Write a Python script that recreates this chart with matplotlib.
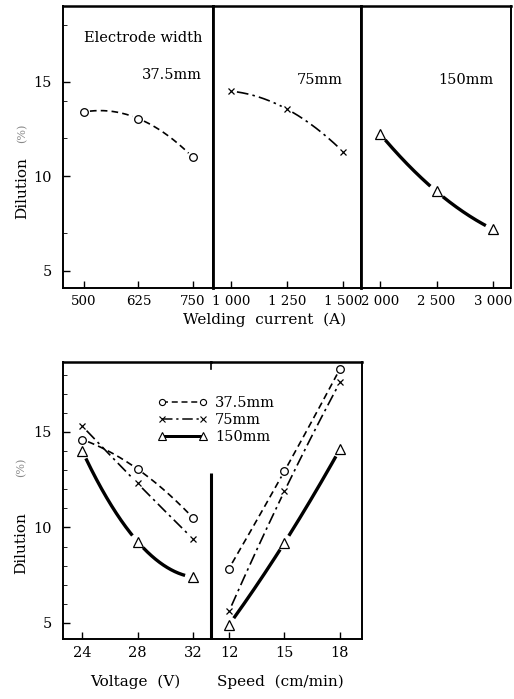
import numpy as np
import matplotlib
matplotlib.use("Agg")
import matplotlib.pyplot as plt
from matplotlib.lines import Line2D
from matplotlib.ticker import FixedLocator

plt.rcParams['font.family'] = ['DejaVu Serif']

# ---------------- data ----------------
widths = ["37.5mm", "75mm", "150mm"]

cur_375 = [500, 625, 750]
dil_cur_375 = [13.4, 13.05, 11.0]
cur_75 = [1000, 1250, 1500]
dil_cur_75 = [14.5, 13.55, 11.3]
cur_150 = [2000, 2500, 3000]
dil_cur_150 = [12.25, 9.2, 7.2]
cur_tick_labels = [["500", "625", "750"],
                   ["1 000", "1 250", "1 500"],
                   ["2 000", "2 500", "3 000"]]

voltage = [24, 28, 32]
dil_volt_375 = [14.6, 13.05, 10.5]
dil_volt_75 = [15.3, 12.3, 9.4]
dil_volt_150 = [14.0, 9.25, 7.4]

speed = [12, 15, 18]
dil_speed_375 = [7.85, 12.95, 18.3]
dil_speed_75 = [5.6, 11.9, 17.6]
dil_speed_150 = [4.9, 9.2, 14.1]

y_ticks = [5, 10, 15]

# ---------------- styling ----------------
W, H = 514, 699
fig = plt.figure(figsize=(W / 100, H / 100), dpi=100)
FS = 10.5

STY = {
    "37.5mm": dict(marker="o", ls=(0, (4, 2.5)), lw=1.2, ms=5.5, gap=6),
    "75mm": dict(marker="x", ls=(0, (7, 2.5, 1.5, 2.5)), lw=1.2, ms=5, gap=6),
    "150mm": dict(marker="^", ls="-", lw=2.4, ms=7, gap=8),
}


def pos(l, t, r, b):
    return [l / W, 1 - b / H, (r - l) / W, (b - t) / H]


def ftext(x, y, s, **kw):
    kw.setdefault("fontsize", FS)
    return fig.text(x / W, 1 - y / H, s, **kw)


def style_axes(ax, left_label=True, xfs=FS):
    ax.patch.set_visible(False)
    ax.tick_params(direction="in", length=5, width=1, labelsize=FS, pad=5)
    ax.tick_params(axis="x", labelsize=xfs)
    ax.tick_params(axis="y", pad=8)
    for s in ax.spines.values():
        s.set_linewidth(1.4)
    ax.spines["top"].set_linewidth(1.8)
    if not left_label:
        ax.tick_params(axis="y", left=False, labelleft=False, which="both")


def draw_series(ax, xs, ys, key):
    st = STY[key]
    c = np.polyfit(xs, ys, 2)
    xx = np.linspace(xs[0], xs[-1], 600)
    yy = np.polyval(c, xx)
    pts = ax.transData.transform(np.column_stack([xx, yy]))
    mk = ax.transData.transform(np.column_stack([xs, ys]))
    d = np.min(np.hypot(pts[:, 0, None] - mk[None, :, 0],
                        pts[:, 1, None] - mk[None, :, 1]), axis=1)
    yy = np.where(d < st["gap"], np.nan, yy)
    ax.plot(xx, yy, ls=st["ls"], lw=st["lw"], color="k", solid_capstyle="butt")
    ax.plot(xs, ys, ls="none", marker=st["marker"], ms=st["ms"],
            mfc="white" if st["marker"] != "x" else "k", mec="k", mew=0.9)


# ---------------- top chart: welding current ----------------
top_bounds = [(63, 213), (213, 361), (361, 511)]
top_xlim = [(452, 796), (920, 1580), (1832, 3159)]
top_data = [(cur_375, dil_cur_375, "37.5mm"),
            (cur_75, dil_cur_75, "75mm"),
            (cur_150, dil_cur_150, "150mm")]
top_axes = []
for i, ((l, r), xl, (xs, ys, key)) in enumerate(zip(top_bounds, top_xlim, top_data)):
    ax = fig.add_axes(pos(l, 6, r, 288))
    ax.set_xlim(*xl)
    ax.set_ylim(4.1, 19.0)
    ax.set_xticks(xs)
    ax.set_xticklabels(cur_tick_labels[i])
    ax.set_yticks(y_ticks)
    ax.yaxis.set_minor_locator(FixedLocator([7, 12, 14, 18]))
    ax.tick_params(axis="y", which="minor", direction="in", length=3)
    style_axes(ax, left_label=(i == 0), xfs=9.6)
    draw_series(ax, xs, ys, key)
    top_axes.append(ax)
for ax in top_axes[1:]:
    ax.spines["left"].set_linewidth(2.0)

ftext(143, 38, "Electrode width", ha="center", va="center")
ftext(172, 75, widths[0], ha="center", va="center")
ftext(320, 80, widths[1], ha="center", va="center")
ftext(466, 80, widths[2], ha="center", va="center")
ftext(265, 320, "Welding  current  (A)", ha="center", va="center", fontsize=11)
ftext(22, 188, "Dilution", rotation=90, ha="center", va="center", fontsize=11)
ftext(22, 133, "(%)", rotation=90, ha="center", va="center", fontsize=8, color="#888888")

# ---------------- bottom chart: voltage and speed ----------------
axv = fig.add_axes(pos(63, 362, 211, 639))
axs = fig.add_axes(pos(211, 362, 362, 639))
axv.set_xlim(22.6, 33.3)
axs.set_xlim(11.03, 19.19)
for ax in (axv, axs):
    ax.set_ylim(4.16, 18.66)
    ax.set_yticks(y_ticks)
    ax.yaxis.set_minor_locator(FixedLocator(np.arange(5, 19, 1)))
    ax.tick_params(axis="y", which="minor", direction="in", length=3)
axv.set_xticks(voltage)
axs.set_xticks(speed)
style_axes(axv, True)
style_axes(axs, False)
axv.spines["right"].set_visible(False)
axs.spines["left"].set_visible(False)
# partial divider
axv.plot([1, 1], [0, 0.6], transform=axv.transAxes, color="k", lw=2.2,
         clip_on=False, zorder=10, solid_capstyle="butt")
axv.plot([1, 1], [0.975, 1], transform=axv.transAxes, color="k", lw=1.2,
         clip_on=False, zorder=10)

draw_series(axv, voltage, dil_volt_375, "37.5mm")
draw_series(axv, voltage, dil_volt_75, "75mm")
draw_series(axv, voltage, dil_volt_150, "150mm")
draw_series(axs, speed, dil_speed_375, "37.5mm")
draw_series(axs, speed, dil_speed_75, "75mm")
draw_series(axs, speed, dil_speed_150, "150mm")

handles = []
for key in widths:
    st = STY[key]
    handles.append(Line2D([], [], color="k", ls=st["ls"], lw=st["lw"] * 0.9,
                          marker=st["marker"], ms=st["ms"] * 0.8,
                          mfc="white" if st["marker"] != "x" else "k", mec="k", mew=0.8))
leg = fig.legend(handles, widths, loc="upper left", numpoints=2, frameon=False,
                 bbox_to_anchor=(158 / W, 1 - 396 / H), bbox_transform=fig.transFigure,
                 handlelength=3.4, handletextpad=0.5, labelspacing=0.2,
                 borderpad=0, borderaxespad=0, fontsize=FS)

ftext(135, 682, "Voltage  (V)", ha="center", va="center", fontsize=11)
ftext(280, 682, "Speed  (cm/min)", ha="center", va="center", fontsize=11)
ftext(21, 543, "Dilution", rotation=90, ha="center", va="center", fontsize=11)
ftext(21, 467, "(%)", rotation=90, ha="center", va="center", fontsize=8, color="#888888")

fig.savefig("out.png", dpi=100, facecolor="white")
